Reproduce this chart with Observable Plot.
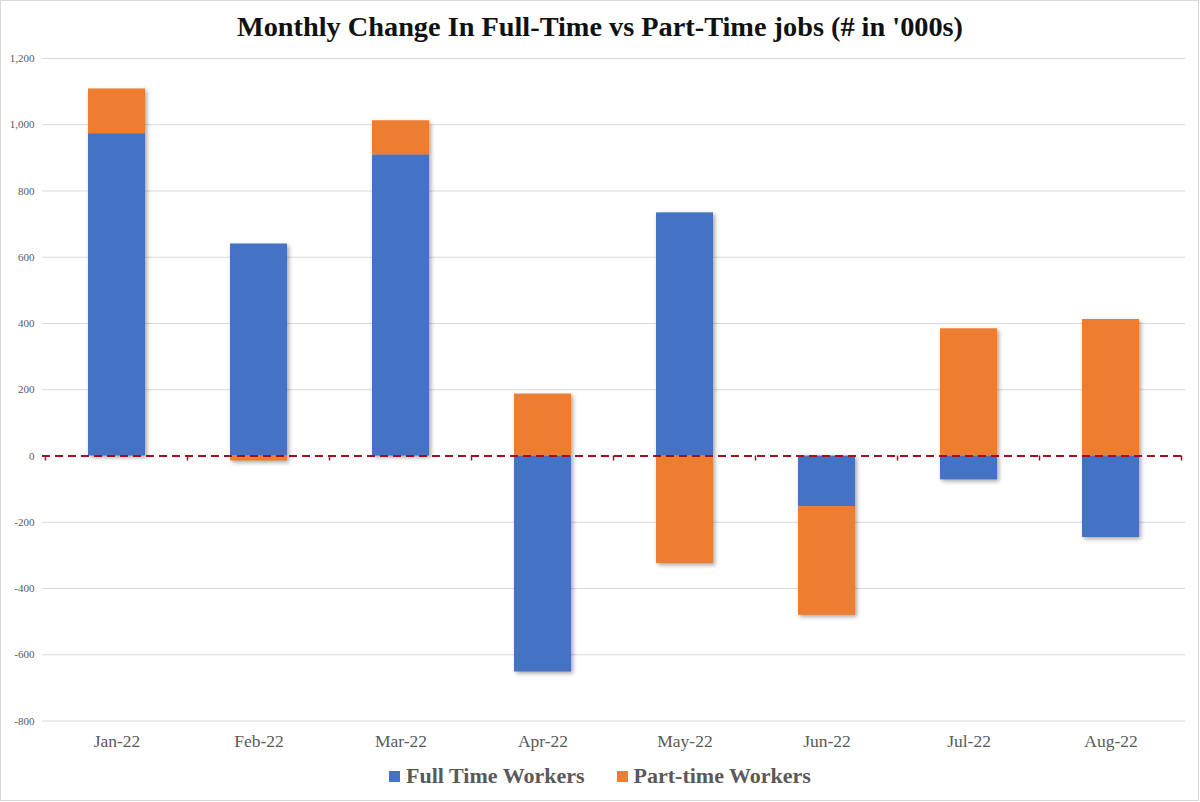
<!DOCTYPE html>
<html>
<head>
<meta charset="utf-8">
<script src="https://cdn.jsdelivr.net/npm/d3@7"></script>
<script src="https://cdn.jsdelivr.net/npm/@observablehq/plot@0.6"></script>
<style>
  html, body { margin: 0; padding: 0; background: #fff; }
  #page { position: relative; width: 1200px; height: 802px; overflow: hidden; background: #fff; }
  #frame { position: absolute; left: 0; top: 0; width: 1197px; height: 799px; border: 1px solid #d9d9d9; pointer-events: none; }
  #title { position: absolute; left: 0; top: 7px; width: 1200px; height: 40px; line-height: 40px; text-align: center;
           font-family: "Liberation Serif", "DejaVu Serif", serif; font-weight: bold; font-size: 28.3px; color: #111; }
  #chart { position: absolute; left: 0; top: 45px; }
  #chart g[aria-label="bar"] { filter: drop-shadow(2px 2px 2px rgba(0,0,0,0.35)); }
  #legend { position: absolute; left: 0; top: 762px; width: 1200px; height: 28px; line-height: 28px; text-align: center;
            font-family: "Liberation Serif", "DejaVu Serif", serif; font-weight: bold; font-size: 22px; color: #595959; }
  #legend .item { display: inline-block; margin: 0 16px; }
  #legend .sw { display: inline-block; width: 11px; height: 11px; margin-right: 6px; vertical-align: 1px; }
</style>
</head>
<body>
<div id="page">
  <div id="title">Monthly Change In Full-Time vs Part-Time jobs (# in '000s)</div>
  <div id="chart"></div>
  <div id="legend"></div>
  <div id="frame"></div>
</div>
<script>
// Monthly change in employment, thousands
const months = ["Jan-22", "Feb-22", "Mar-22", "Apr-22", "May-22", "Jun-22", "Jul-22", "Aug-22"];
const fullTime = [973, 640, 909, -652, 734, -153, -72, -246];
const partTime = [135, -15, 103, 187, -325, -328, 384, 412];
const seriesNames = ["Full Time Workers", "Part-time Workers"];
const seriesColors = ["#4472C4", "#ED7D31"];
const yTicks = [-800, -600, -400, -200, 0, 200, 400, 600, 800, 1000, 1200];

// Long-format rows: full-time first so it sits next to zero in each stack
const rows = months.flatMap((m, i) => [
  {month: m, series: seriesNames[0], value: fullTime[i]},
  {month: m, series: seriesNames[1], value: partTime[i]}
]);

const zeroColor = "#A0101F";

// Short category ticks hanging below the zero line at each band boundary
function boundaryTicks(index, scales) {
  const x = scales.x, y = scales.y;
  const gap = x.step() - x.bandwidth();
  const edges = months.map(m => x(m) - gap / 2);
  edges.push(x(months[months.length - 1]) + x.bandwidth() + gap / 2);
  const g = d3.create("svg:g");
  g.selectAll("line").data(edges).join("line")
    .attr("x1", d => d).attr("x2", d => d)
    .attr("y1", y(0)).attr("y2", y(0) + 5)
    .attr("stroke", zeroColor).attr("stroke-width", 1.5);
  return g.node();
}

const chart = Plot.plot({
  width: 1200,
  height: 715,
  marginTop: 13,
  marginBottom: 39.5,
  marginLeft: 42,
  marginRight: 15,
  style: {fontFamily: "'Liberation Serif', 'DejaVu Serif', serif", color: "#595959", background: "transparent"},
  x: {domain: months, paddingInner: 0.6, paddingOuter: 0.3, label: null},
  y: {domain: [-800, 1200], label: null},
  color: {domain: seriesNames, range: seriesColors},
  marks: [
    Plot.gridY(yTicks.filter(d => d !== 0), {stroke: "#d9d9d9", strokeOpacity: 1}),
    Plot.axisY(yTicks, {tickSize: 0, tickPadding: 8, fontSize: 11, tickFormat: d => d.toLocaleString("en-US"), label: null}),
    Plot.axisX({tickSize: 0, tickPadding: 14, fontSize: 17.5, label: null}),
    Plot.barY(rows, {x: "month", y: "value", fill: "series"}),
    Plot.ruleY([0], {stroke: zeroColor, strokeWidth: 2, strokeDasharray: "8,5"}),
    boundaryTicks
  ]
});
document.getElementById("chart").appendChild(chart);

// Legend below the chart
const legend = d3.select("#legend");
seriesNames.forEach((name, i) => {
  const item = legend.append("span").attr("class", "item");
  item.append("span").attr("class", "sw").style("background", seriesColors[i]);
  item.append("span").text(name);
});
</script>
</body>
</html>
